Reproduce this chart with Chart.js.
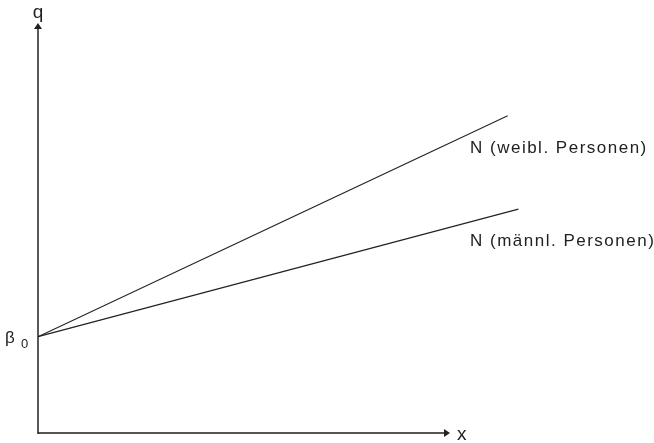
<!DOCTYPE html>
<html>
<head>
<meta charset="utf-8">
<script src="https://cdn.jsdelivr.net/npm/chart.js@4"></script>
<style>
  html, body { margin: 0; padding: 0; background: #fff; }
  #wrap { width: 654px; height: 443px; }
</style>
</head>
<body>
<div id="wrap"><canvas id="c" width="654" height="443"></canvas></div>
<script>
// Two linear relations sharing the intercept beta_0
const groups = ['N (weibl. Personen)', 'N (männl. Personen)'];
const xStart = 0;
const xEnd = [114, 116.6];
const beta0 = 23.5;
const yEnd = [77.4, 54.6];
const axisLabels = { x: 'x', y: 'q' };

const FONT = '"Liberation Sans", Arial, Helvetica, sans-serif';
const INK = '#222';

const datasets = groups.map((g, i) => ({
  label: g,
  data: [{ x: xStart, y: beta0 }, { x: xEnd[i], y: yEnd[i] }],
  borderColor: INK,
  borderWidth: 1.1,
  pointRadius: 0,
  fill: false,
  clip: false,
  tension: 0
}));

// Axes with arrowheads, axis names, beta_0 and the group labels
const decorations = {
  id: 'decorations',
  afterDatasetsDraw(chart) {
    const ctx = chart.ctx;
    const xs = chart.scales.x, ys = chart.scales.y;
    const x0 = xs.getPixelForValue(xs.min);
    const x1 = xs.getPixelForValue(xs.max);
    const y0 = ys.getPixelForValue(ys.min);
    const y1 = ys.getPixelForValue(ys.max);
    ctx.save();

    // x axis
    ctx.strokeStyle = '#555';
    ctx.lineWidth = 2;
    ctx.beginPath();
    ctx.moveTo(x0, y0);
    ctx.lineTo(x1 - 5, y0);
    ctx.stroke();
    ctx.fillStyle = INK;
    ctx.beginPath();
    ctx.moveTo(x1, y0);
    ctx.lineTo(x1 - 6, y0 - 4);
    ctx.lineTo(x1 - 6, y0 + 4);
    ctx.closePath();
    ctx.fill();

    // y axis
    ctx.strokeStyle = INK;
    ctx.lineWidth = 1.5;
    ctx.beginPath();
    ctx.moveTo(x0, y0 + 1);
    ctx.lineTo(x0, y1 + 5);
    ctx.stroke();
    ctx.beginPath();
    ctx.moveTo(x0, y1);
    ctx.lineTo(x0 - 4, y1 + 6);
    ctx.lineTo(x0 + 4, y1 + 6);
    ctx.closePath();
    ctx.fill();

    // axis names
    ctx.fillStyle = INK;
    ctx.textBaseline = 'alphabetic';
    ctx.font = '19px ' + FONT;
    ctx.textAlign = 'center';
    ctx.fillText(axisLabels.y, x0, y1 - 5);
    ctx.textAlign = 'left';
    ctx.fillText(axisLabels.x, x1 + 7, y0 + 7);

    // beta_0 at the intercept
    const yb = ys.getPixelForValue(beta0);
    ctx.font = '17px ' + FONT;
    ctx.fillText('\u03B2', 5, yb + 6);
    ctx.font = '13px ' + FONT;
    ctx.fillText('0', 21, yb + 11);

    // group labels below the line ends
    ctx.font = '17px ' + FONT;
    ctx.letterSpacing = '1.5px';
    groups.forEach((g, i) => {
      const ye = ys.getPixelForValue(yEnd[i]);
      ctx.fillText(g, 470, ye + 37);
    });
    ctx.restore();
  }
};

new Chart(document.getElementById('c'), {
  type: 'line',
  data: { datasets },
  options: {
    responsive: false,
    animation: false,
    layout: { padding: { left: 38, top: 23, right: 204, bottom: 10 } },
    plugins: { legend: { display: false }, tooltip: { enabled: false } },
    scales: {
      x: { type: 'linear', min: 0, max: 100, display: false },
      y: { type: 'linear', min: 0, max: 100, display: false }
    }
  },
  plugins: [decorations]
});
</script>
</body>
</html>
